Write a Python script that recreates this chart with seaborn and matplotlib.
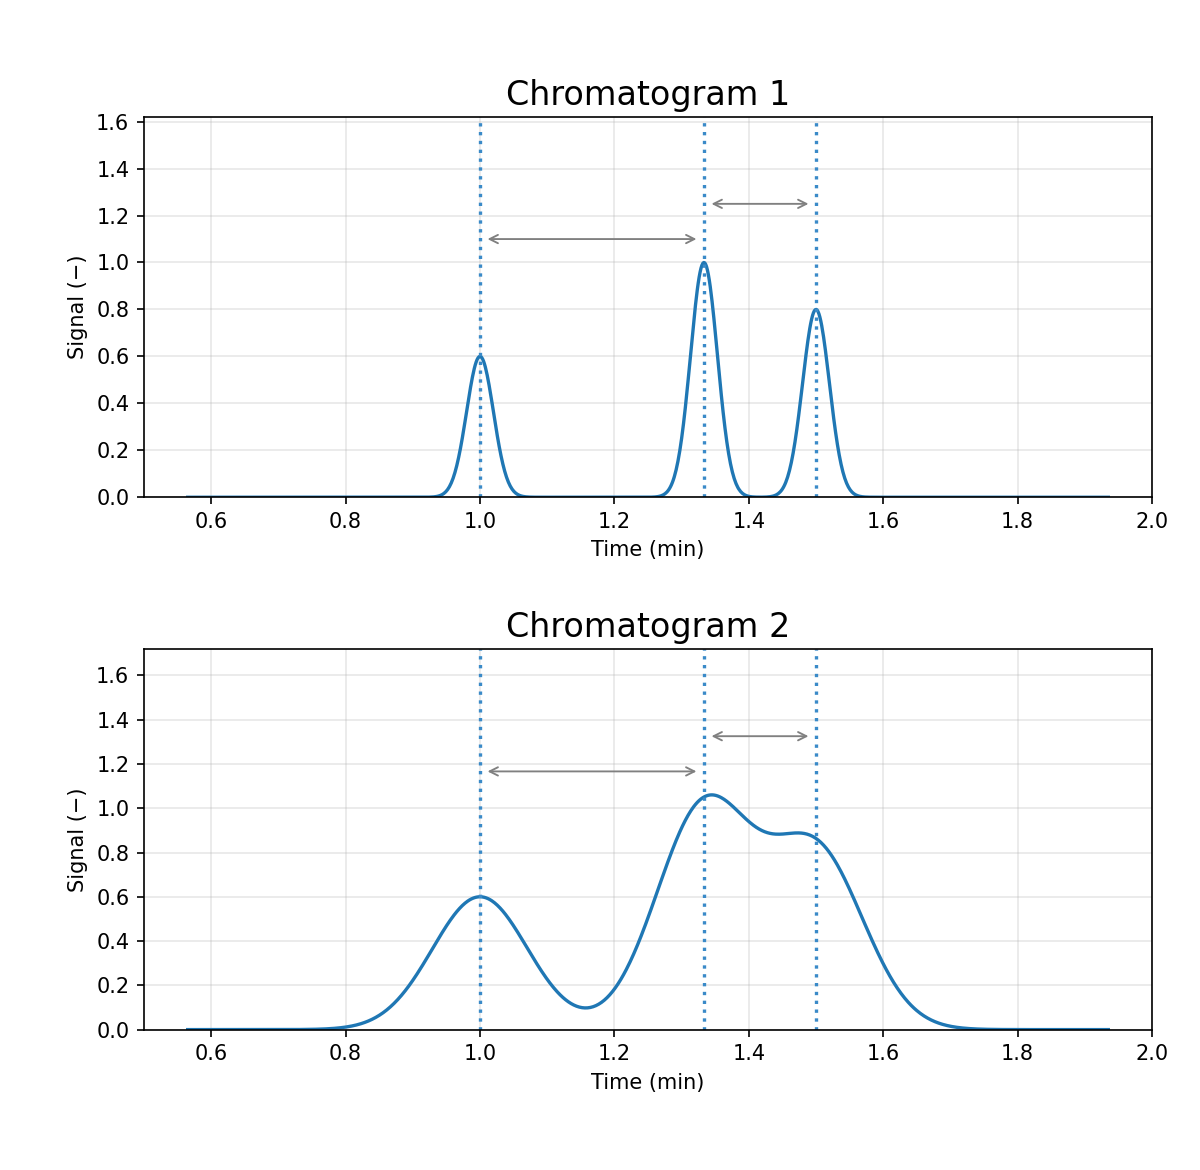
import numpy as np
import pandas as pd
import seaborn as sns
import matplotlib.pyplot as plt

# peak parameters
peak_times = [1.0, 1.3333, 1.5]
peak_heights = [0.6, 1.0, 0.8]
peak_widths = {"Chromatogram 1": 0.02, "Chromatogram 2": 0.071}
t_start, t_end = 0.565, 1.935

fig, axes = plt.subplots(2, 1, figsize=(8, 7.8), dpi=150)
fig.subplots_adjust(left=0.12, right=0.96, top=0.9, bottom=0.12, hspace=0.4)

t = np.linspace(t_start, t_end, 1000)

for ax, (title, sigma) in zip(axes, peak_widths.items()):
    signal = np.zeros_like(t)
    for tr, h in zip(peak_times, peak_heights):
        signal += h * np.exp(-(t - tr) ** 2 / (2 * sigma ** 2))
    df = pd.DataFrame({"time": t, "signal": signal})

    sns.lineplot(data=df, x="time", y="signal", ax=ax, color="#1f77b4", linewidth=1.6)
    top = signal.max()

    for tr in peak_times:
        ax.axvline(tr, color="#3a8ac8", linestyle=":", linewidth=1.6)

    # resolution arrows
    for i, lvl in enumerate([1.1, 1.25]):
        ax.annotate("", xy=(peak_times[i + 1] - 0.005, top * lvl),
                    xytext=(peak_times[i] + 0.005, top * lvl),
                    arrowprops=dict(arrowstyle="<->", color="gray", lw=0.9))

    ax.set_xlim(0.5, 2.0)
    ax.set_ylim(0, top * 1.62)
    ax.grid(alpha=0.3)
    ax.set_axisbelow(True)
    ax.set_title(title, fontsize=16)
    ax.set_xlabel("Time (min)", fontsize=10)
    ax.set_ylabel("Signal (\u2212)", fontsize=10)
    ax.tick_params(labelsize=10)

plt.savefig("out.png")
